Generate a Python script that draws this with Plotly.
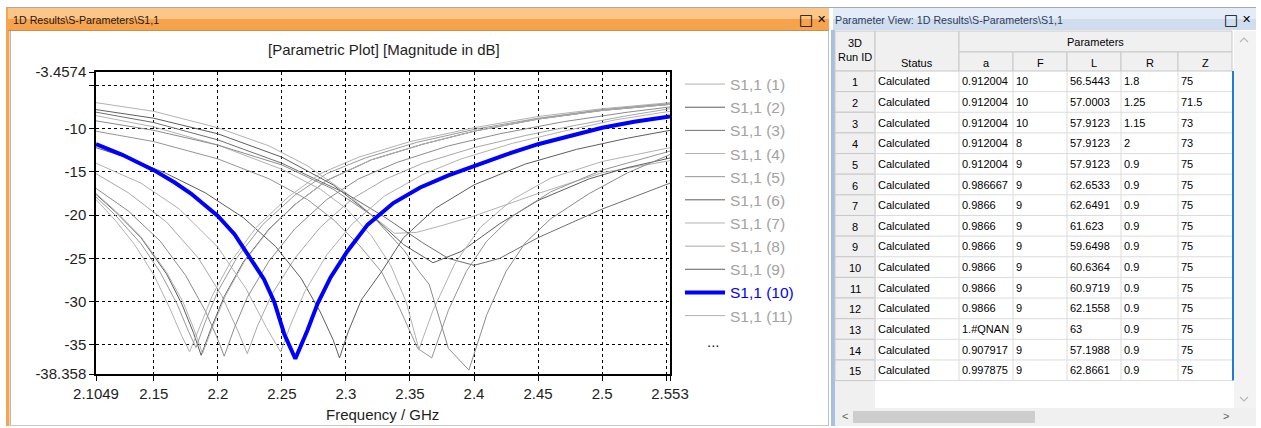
import plotly.graph_objects as go

# ---------------- S1,1 magnitude (dB) per parameter run ----------------
f01 = [2.1049, 2.15, 2.2, 2.24, 2.27, 2.3, 2.32, 2.338, 2.355, 2.375, 2.4, 2.45, 2.5, 2.553]
s01 = [-7.0, -8.0, -9.9, -12.0, -14.3, -17.4, -20.0, -22.1, -22.0, -21.2, -20.1, -17.5, -15.1, -13.7]

f02 = [2.1049, 2.15, 2.2, 2.25, 2.29, 2.32, 2.345, 2.368, 2.39, 2.42, 2.45, 2.49, 2.52, 2.553]
s02 = [-7.8, -8.8, -10.6, -13.3, -16.5, -20.0, -23.4, -25.5, -24.2, -21.0, -18.3, -15.8, -14.5, -13.4]

f03 = [2.1049, 2.15, 2.2, 2.25, 2.3, 2.33, 2.36, 2.38, 2.4, 2.42, 2.45, 2.5, 2.553]
s03 = [-8.1, -9.3, -11.3, -14.0, -17.5, -20.2, -23.2, -25.0, -25.8, -25.0, -22.6, -19.3, -16.3]

f04 = [2.1049, 2.15, 2.2, 2.25, 2.28, 2.3, 2.32, 2.335, 2.347, 2.357, 2.368, 2.385, 2.405, 2.43, 2.46, 2.5, 2.553]
s04 = [-8.5, -9.8, -11.9, -14.7, -17.0, -19.2, -22.4, -25.8, -30.0, -35.5, -31.0, -25.6, -21.4, -18.2, -15.7, -13.8, -12.2]

f05 = [2.1049, 2.15, 2.2, 2.24, 2.27, 2.29, 2.31, 2.328, 2.342, 2.356, 2.367, 2.38, 2.394, 2.41, 2.43, 2.46, 2.5, 2.553]
s05 = [-10.3, -11.5, -13.5, -15.8, -18.2, -20.5, -23.4, -26.6, -30.8, -35.4, -36.5, -31.0, -26.5, -23.0, -20.1, -17.3, -14.8, -12.6]

f06 = [2.1049, 2.12, 2.14, 2.16, 2.172, 2.181, 2.187, 2.195, 2.205, 2.22, 2.24, 2.26, 2.285, 2.32, 2.36, 2.4, 2.45, 2.5, 2.553]
s06 = [-17.6, -19.6, -22.6, -26.8, -30.3, -33.6, -36.2, -33.0, -29.4, -25.4, -21.6, -18.8, -16.0, -13.6, -11.8, -10.3, -8.9, -7.9, -7.2]

f07 = [2.1049, 2.12, 2.14, 2.16, 2.173, 2.182, 2.188, 2.196, 2.206, 2.221, 2.241, 2.261, 2.286, 2.32, 2.36, 2.4, 2.45, 2.5, 2.553]
s07 = [-17.5, -19.5, -22.5, -26.6, -30.1, -33.4, -36.0, -32.9, -29.3, -25.3, -21.5, -18.7, -15.9, -13.6, -11.8, -10.3, -8.9, -7.9, -7.2]

f08 = [2.1049, 2.13, 2.16, 2.185, 2.203, 2.216, 2.223, 2.231, 2.242, 2.26, 2.28, 2.305, 2.33, 2.36, 2.4, 2.44, 2.48, 2.52, 2.553]
s08 = [-15.2, -17.4, -20.8, -25.0, -29.3, -33.5, -36.0, -32.8, -29.2, -25.0, -21.4, -18.1, -15.9, -14.0, -12.2, -10.8, -9.6, -8.5, -7.7]

f09 = [2.1049, 2.13, 2.16, 2.19, 2.22, 2.245, 2.265, 2.28, 2.29, 2.295, 2.302, 2.312, 2.328, 2.345, 2.37, 2.4, 2.44, 2.48, 2.52, 2.553]
s09 = [-12.2, -13.4, -15.2, -17.4, -20.3, -23.6, -27.3, -31.2, -34.4, -36.5, -33.4, -29.8, -26.5, -22.6, -19.2, -16.5, -14.1, -12.4, -11.1, -10.2]

f10 = [2.1049, 2.125, 2.15, 2.166, 2.179, 2.192, 2.2, 2.213, 2.224, 2.236, 2.244, 2.252, 2.2605, 2.27,
       2.278, 2.288, 2.301, 2.317, 2.337, 2.358, 2.38, 2.4, 2.425, 2.45, 2.475, 2.5, 2.525, 2.553]
s10 = [-11.8, -13.0, -14.8, -16.2, -17.5, -19.1, -20.1, -22.2, -24.6, -27.4, -30.0, -33.8, -36.6, -33.3,
       -30.2, -27.2, -24.2, -21.1, -18.6, -16.8, -15.4, -14.3, -13.0, -11.8, -10.8, -9.9, -9.2, -8.6]

f11 = [2.1049, 2.14, 2.17, 2.2, 2.222, 2.238, 2.249, 2.257, 2.268, 2.285, 2.305, 2.33, 2.36, 2.39, 2.43, 2.47, 2.51, 2.553]
s11 = [-14.0, -16.3, -19.3, -23.7, -28.5, -33.0, -35.8, -32.6, -28.8, -24.6, -21.0, -17.8, -15.3, -13.5, -11.7, -10.3, -9.0, -8.0]

f12 = [2.1049, 2.13, 2.155, 2.175, 2.19, 2.199, 2.205, 2.213, 2.223, 2.24, 2.26, 2.285, 2.31, 2.34, 2.38, 2.42, 2.47, 2.52, 2.553]
s12 = [-16.9, -19.5, -23.0, -27.0, -31.0, -34.0, -36.3, -33.0, -29.5, -25.3, -21.6, -18.2, -15.8, -13.9, -12.0, -10.6, -9.2, -8.1, -7.5]

f13 = [2.1049, 2.12, 2.135, 2.15, 2.162, 2.172, 2.178, 2.186, 2.196, 2.21, 2.23, 2.255, 2.28, 2.31, 2.35, 2.4, 2.45, 2.5, 2.553]
s13 = [-18.2, -20.6, -23.4, -26.9, -30.6, -34.0, -35.8, -32.8, -29.2, -25.4, -21.4, -17.9, -15.2, -13.3, -11.5, -9.9, -8.6, -7.7, -7.0]

f14 = [2.1049, 2.15, 2.2, 2.25, 2.29, 2.32, 2.345, 2.357, 2.365, 2.38, 2.396, 2.41, 2.425, 2.44, 2.46, 2.49, 2.52, 2.553]
s14 = [-9.1, -10.2, -11.9, -14.2, -17.0, -20.0, -24.0, -26.5, -28.0, -35.4, -37.9, -31.5, -26.5, -23.2, -20.4, -17.5, -15.1, -13.0]

f15 = [2.1049, 2.12, 2.14, 2.155, 2.168, 2.177, 2.183, 2.19, 2.2, 2.215, 2.235, 2.26, 2.285, 2.315, 2.355, 2.4, 2.45, 2.5, 2.553]
s15 = [-17.9, -20.0, -23.3, -26.6, -30.2, -33.4, -35.3, -32.4, -28.8, -24.9, -21.1, -17.7, -15.2, -13.4, -11.6, -10.1, -8.8, -7.8, -7.1]

run_freqs = [f01, f02, f03, f04, f05, f06, f07, f08, f09, f10, f11, f12, f13, f14, f15]
run_s11 = [s01, s02, s03, s04, s05, s06, s07, s08, s09, s10, s11, s12, s13, s14, s15]
run_colors = ["#b2b2b2", "#5e5e5e", "#707070", "#b2b2b2", "#959595", "#5e5e5e", "#b2b2b2", "#a8a8a8",
              "#5e5e5e", "#0000ff", "#b2b2b2", "#8c8c8c", "#b2b2b2", "#8c8c8c", "#9a9a9a"]
selected_run = 10
legend_runs = 11

# ---------------- axis ticks ----------------
x_min, x_max = 2.1049, 2.553
y_min, y_max = -38.358, -3.4574
x_tickvals = [2.1049, 2.15, 2.2, 2.25, 2.3, 2.35, 2.4, 2.45, 2.5, 2.55, 2.553]
x_ticktext = ["2.1049", "2.15", "2.2", "2.25", "2.3", "2.35", "2.4", "2.45", "2.5", "", "2.553"]
y_tickvals = [-38.358, -35, -30, -25, -20, -15, -10, -5, -3.4574]
y_ticktext = ["-38.358", "-35", "-30", "-25", "-20", "-15", "-10", "", "-3.4574"]

# ---------------- parameter table ----------------
run_ids = [1, 2, 3, 4, 5, 6, 7, 8, 9, 10, 11, 12, 13, 14, 15]
run_status = ["Calculated", "Calculated", "Calculated", "Calculated", "Calculated",
              "Calculated", "Calculated", "Calculated", "Calculated", "Calculated",
              "Calculated", "Calculated", "Calculated", "Calculated", "Calculated"]
param_a = ["0.912004", "0.912004", "0.912004", "0.912004", "0.912004", "0.986667", "0.9866", "0.9866",
           "0.9866", "0.9866", "0.9866", "0.9866", "1.#QNAN", "0.907917", "0.997875"]
param_F = ["10", "10", "10", "8", "9", "9", "9", "9", "9", "9", "9", "9", "9", "9", "9"]
param_L = ["56.5443", "57.0003", "57.9123", "57.9123", "57.9123", "62.6533", "62.6491", "61.623",
           "59.6498", "60.6364", "60.9719", "62.1558", "63", "57.1988", "62.8661"]
param_R = ["1.8", "1.25", "1.15", "2", "0.9", "0.9", "0.9", "0.9", "0.9", "0.9", "0.9", "0.9",
           "0.9", "0.9", "0.9"]
param_Z = ["75", "71.5", "73", "73", "75", "75", "75", "75", "75", "75", "75", "75", "75", "75", "75"]
param_names = ["a", "F", "L", "R", "Z"]

# ---------------- page geometry helpers (pixel -> paper) ----------------
W, H = 1261, 428
UI_FONT = "Liberation Sans"


def px(x):
    return x / W


def py(y):
    return 1 - y / H


shapes = []
annotations = []


def rect(x0, y0, x1, y1, fill, line_color=None, line_width=1, layer="below"):
    shapes.append(dict(type="rect", xref="paper", yref="paper",
                       x0=px(x0), x1=px(x1), y0=py(y1), y1=py(y0),
                       fillcolor=fill, layer=layer,
                       line=dict(color=line_color or fill, width=line_width if line_color else 0)))


def hline(x0, x1, y, color, width=1, layer="below"):
    shapes.append(dict(type="line", xref="paper", yref="paper", x0=px(x0), x1=px(x1),
                       y0=py(y), y1=py(y), line=dict(color=color, width=width), layer=layer))


def vline(x, y0, y1, color, width=1, layer="below"):
    shapes.append(dict(type="line", xref="paper", yref="paper", x0=px(x), x1=px(x),
                       y0=py(y0), y1=py(y1), line=dict(color=color, width=width), layer=layer))


def label(x, y, text, size=11, color="#000000", anchor="left", family=UI_FONT):
    # annotation boxes carry ~3px of padding; compensate so x is the glyph edge
    shift = {"left": -3, "right": 3, "center": 0}[anchor]
    annotations.append(dict(xref="paper", yref="paper", x=px(x + shift), y=py(y), text=text,
                            showarrow=False, xanchor=anchor, yanchor="middle",
                            font=dict(family=family, size=size, color=color)))


def chevron(x, y, up, color="#a0a0a0"):
    d = 3 if up else -3
    path = "M {} {} L {} {} L {} {}".format(px(x - 4), py(y + d / 1.5), px(x), py(y - d / 1.5),
                                            px(x + 4), py(y + d / 1.5))
    shapes.append(dict(type="path", xref="paper", yref="paper", path=path,
                       line=dict(color=color, width=1.2), layer="above"))


# ---------- left window: plot panel ----------
hline(6, 1256, 7.5, "#a9a9a9")
rect(6, 8, 9.5, 426, "#f5a54f")
vline(10.5, 30, 426, "#b8b8b8")
rect(11, 30, 828, 425, "#ffffff")
hline(10, 829, 425.5, "#c8c8c8")
vline(828.5, 30, 426, "#c0c0c0")
rect(8, 8, 829, 19, "#fcc688")
rect(8, 19, 829, 30, "#f7a24c")
hline(8, 829, 30.5, "#c89050")
label(14, 19.5, "1D Results\\S-Parameters\\S1,1", size=10.7, color="#1a1a1a")
label(806, 19.5, "□", size=15, color="#000000", anchor="center", family="DejaVu Sans")
label(821, 19.5, "✕", size=11, color="#000000", anchor="center", family="DejaVu Sans")

# ---------- right window: parameter view ----------
rect(833, 8, 1256, 19, "#e4ecf7")
rect(833, 19, 1256, 30, "#d0ddee")
rect(831, 30, 835, 426, "#a9bfdf")
label(836, 19.5, "Parameter View: 1D Results\\S-Parameters\\S1,1", size=10.7, color="#2e3d5c")
label(1231, 19.5, "□", size=15, color="#000000", anchor="center", family="DejaVu Sans")
label(1246, 19.5, "✕", size=11, color="#000000", anchor="center", family="DejaVu Sans")

col_edges = [835, 875, 959, 1013, 1067, 1121, 1178, 1232]
table_top = 31
hdr_mid = 52
hdr_bot = 71
row_h = 20.64
n_rows = len(run_ids)
rows_bot = hdr_bot + n_rows * row_h

# background areas
rect(835, 31, 1256, 426, "#ffffff")
rect(835, 31, 875, 408, "#f0f0f0")
rect(1234, 31, 1256, 408, "#f3f3f3")
rect(835, 408, 1256, 426, "#f0f0f0")
rect(853, 411, 1035, 423, "#cdcdcd")
label(845, 416, "<", size=11, color="#606060", anchor="center")
label(1226, 416, ">", size=11, color="#606060", anchor="center")
chevron(1244, 40, True, "#b8b8b8")
chevron(1244, 399, False, "#b8b8b8")

# header cells
rect(835, table_top, 875, hdr_bot, "#f0f0f0", "#c8c8c8")
rect(875, table_top, 959, hdr_bot, "#f0f0f0", "#c8c8c8")
rect(959, table_top, 1232, hdr_mid, "#f0f0f0", "#c8c8c8")
for i in range(2, len(col_edges) - 1):
    rect(col_edges[i], hdr_mid, col_edges[i + 1], hdr_bot, "#f0f0f0", "#c8c8c8")
label(855, 43, "3D", size=11, anchor="center")
label(855, 57, "Run ID", size=11, anchor="center")
label(917, 63, "Status", size=11, anchor="center")
label((959 + 1232) / 2, 42, "Parameters", size=11, anchor="center")
for i, name in enumerate(param_names):
    label((col_edges[i + 2] + col_edges[i + 3]) / 2, 63, name, size=11, anchor="center")

# data rows
columns = [run_status, param_a, param_F, param_L, param_R, param_Z]
for r in range(n_rows):
    top = hdr_bot + r * row_h
    bot = top + row_h
    mid = top + row_h / 2
    rect(835, top, 875, bot, "#f0f0f0", "#c8c8c8")
    hline(875, 1232, bot, "#dcdcdc")
    label(855, mid + 1, str(run_ids[r]), size=11, anchor="center")
    for c, col in enumerate(columns):
        label(col_edges[c + 1] + 4, mid, col[r], size=11)
for x in col_edges[1:-1]:
    vline(x, hdr_bot, rows_bot, "#dcdcdc")
vline(1233, hdr_bot, rows_bot, "#1f7ad8", width=2)

# ---------- chart ----------
fig = go.Figure()
for k in range(len(run_ids)):
    rid = run_ids[k]
    if rid == selected_run:
        name = '<span style="color:#0000ff">S1,1 ({})</span>'.format(rid)
        width = 4
    else:
        name = "S1,1 ({})".format(rid)
        width = 1
    fig.add_trace(go.Scatter(
        x=run_freqs[k], y=run_s11[k], mode="lines", name=name,
        line=dict(color=run_colors[k], width=width),
        showlegend=rid <= legend_runs, legendrank=rid,
    ))

# keep the selected run drawn on top
sel = [t for t in fig.data if t.line.width == 4]
others = [t for t in fig.data if t.line.width != 4]
fig.data = tuple(others + sel)

label(384, 50, "[Parametric Plot] [Magnitude in dB]", size=15, color="#1e1e1e", anchor="center")
label(383, 414, "Frequency / GHz", size=15, color="#1e1e1e", anchor="center")
label(713, 341, "...", size=15, color="#1e1e1e", anchor="center")

x0p, x1p = 96, 670
y0p, y1p = 72, 374
fig.update_layout(
    width=W, height=H,
    margin=dict(l=0, r=0, t=0, b=0, pad=0, autoexpand=False),
    paper_bgcolor="#ffffff",
    plot_bgcolor="rgba(0,0,0,0)",
    font=dict(family=UI_FONT, size=15, color="#1e1e1e"),
    shapes=shapes,
    annotations=annotations,
    showlegend=True,
    legend=dict(x=px(680), y=py(67.5), xanchor="left", yanchor="top",
                font=dict(family=UI_FONT, size=15.5, color="#a2a2a2"),
                bgcolor="rgba(0,0,0,0)", borderwidth=0, itemwidth=40,
                traceorder="normal"),
    xaxis=dict(domain=[px(x0p), px(x1p)], range=[x_min, x_max], automargin=False,
               tickmode="array", tickvals=x_tickvals, ticktext=x_ticktext,
               ticks="outside", ticklen=5, tickcolor="#000000",
               showgrid=True, gridcolor="#000000", gridwidth=1, griddash="3px,3px",
               showline=True, linecolor="#000000", linewidth=1.5, mirror=True,
               zeroline=False, tickfont=dict(size=15, color="#1e1e1e")),
    yaxis=dict(domain=[py(y1p), py(y0p)], range=[y_min, y_max], automargin=False,
               tickmode="array", tickvals=y_tickvals, ticktext=y_ticktext,
               ticks="outside", ticklen=5, tickcolor="#000000",
               showgrid=True, gridcolor="#000000", gridwidth=1, griddash="3px,3px",
               showline=True, linecolor="#000000", linewidth=1.5, mirror=True,
               zeroline=False, tickfont=dict(size=15, color="#1e1e1e")),
)

fig.write_html("out.html")
